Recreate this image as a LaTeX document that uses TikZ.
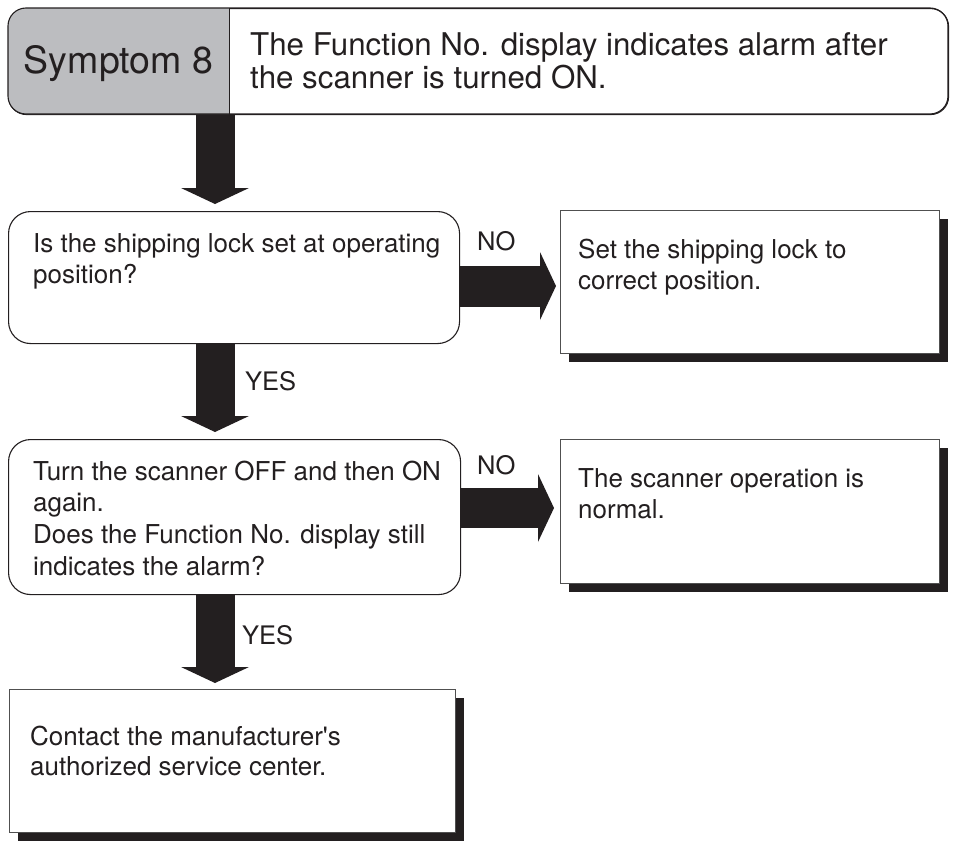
\documentclass[tikz,border=0pt]{standalone}
\usepackage{fontspec}
\setmainfont{TeX Gyre Heros}[Ligatures=TeXOff]
\usetikzlibrary{arrows.meta,calc,shadows}
\definecolor{ink}{HTML}{231F20}
\definecolor{symgray}{HTML}{BCBDC0}
\definecolor{edgegray}{HTML}{505050}
\begin{document}
\begin{tikzpicture}[x=1bp,y=-1bp,
  bodytxt/.style={inner sep=0pt, anchor=north west, align=left, text=ink,
    font=\fontsize{26bp}{31.6bp}\selectfont},
  hdrtxt/.style={inner sep=0pt, anchor=north west, align=left, text=ink,
    font=\fontsize{31.3bp}{33.5bp}\selectfont},
  lbl/.style={inner sep=0pt, anchor=base west, text=ink,
    font=\fontsize{25.5bp}{30bp}\selectfont},
  qbox/.style={draw=ink, line width=1.1bp, rounded corners=22bp, fill=white,
    anchor=north west, inner sep=0pt},
  abox/.style={draw=edgegray, line width=1bp, fill=white, anchor=north west,
    inner sep=0pt, minimum width=379bp, minimum height=143bp,
    drop shadow={shadow xshift=8bp, shadow yshift=-8bp, fill=ink, opacity=1}},
  bigarrow/.style={draw=ink, line width=39bp,
    -{Triangle[length=16bp,width=68bp,line width=0pt]}},
]
\useasboundingbox (0,0) rectangle (953,841);

% header
\node[draw=ink, line width=1.1bp, rounded corners=18bp, anchor=north west,
  inner sep=0pt, minimum width=940bp, minimum height=106bp] (hdr) at (8,8) {};
\begin{scope}
  \clip (8,8) rectangle (229,114);
  \fill[symgray, rounded corners=18bp] (8,8) rectangle (260,114);
\end{scope}
\draw[ink, line width=1.1bp, rounded corners=18bp] (8,8) rectangle (948,114);
\draw[ink, line width=1bp] (229,8) -- (229,114);
\node[inner sep=0pt, anchor=base, text=ink, font=\fontsize{37.5bp}{40bp}\selectfont]
  (sym) at (118.5,73) {Symptom 8};
\node[hdrtxt] (htxt) at (250,31) {\rule{0pt}{24bp}The Function No. display indicates alarm after\\
  the scanner is turned ON.};

% boxes
\node[qbox, minimum width=451bp, minimum height=132bp] (q1) at (8,211) {};
\node[qbox, minimum width=452bp, minimum height=155bp] (q2) at (8,439) {};
\node[abox] (a1) at (560,210) {};
\node[abox, minimum height=144bp] (a2) at (560,439) {};
\node[abox, minimum width=446bp] (a3) at (9,689) {};

% texts
\node[bodytxt] (q1t) at (33,232) {\rule{0pt}{20bp}Is the shipping lock set at operating\\position?};
\node[bodytxt] (q2t) at (33,460) {\rule{0pt}{20bp}Turn the scanner OFF and then ON\\again.\\
  Does the Function No. display still\\indicates the alarm?};
\node[bodytxt] (a1t) at (578,238) {\rule{0pt}{20bp}Set the shipping lock to\\correct position.};
\node[bodytxt] (a2t) at (578,467) {\rule{0pt}{20bp}The scanner operation is\\normal.};
\node[bodytxt, font=\fontsize{26bp}{30.5bp}\selectfont] (a3t) at (30,725)
  {\rule{0pt}{20bp}Contact the manufacturer's\\authorized service center.};

% connectors
\coordinate (colx) at (215,0);
\coordinate (row1) at (0,286);
\coordinate (row2) at (0,508);
\draw[bigarrow] (hdr.south -| colx) -- ($(q1.north -| colx)+(0,-7)$);
\draw[bigarrow] (q1.south -| colx) -- ($(q2.north -| colx)+(0,-7)$);
\draw[bigarrow] (q2.south -| colx) -- ($(a3.north -| colx)+(0,-6)$);
\draw[bigarrow, line width=41bp] (q1.east |- row1) -- ($(a1.west |- row1)+(-4,0)$);
\draw[bigarrow, line width=40bp] (q2.east |- row2) -- ($(a2.west |- row2)+(-6,0)$);

% labels
\node[lbl] (no1) at (477,250) {NO};
\node[lbl] (yes1) at (245,390.5) {YES};
\node[lbl] (no2) at (477,474) {NO};
\node[lbl] (yes2) at (242,644.5) {YES};
\end{tikzpicture}
\end{document}
